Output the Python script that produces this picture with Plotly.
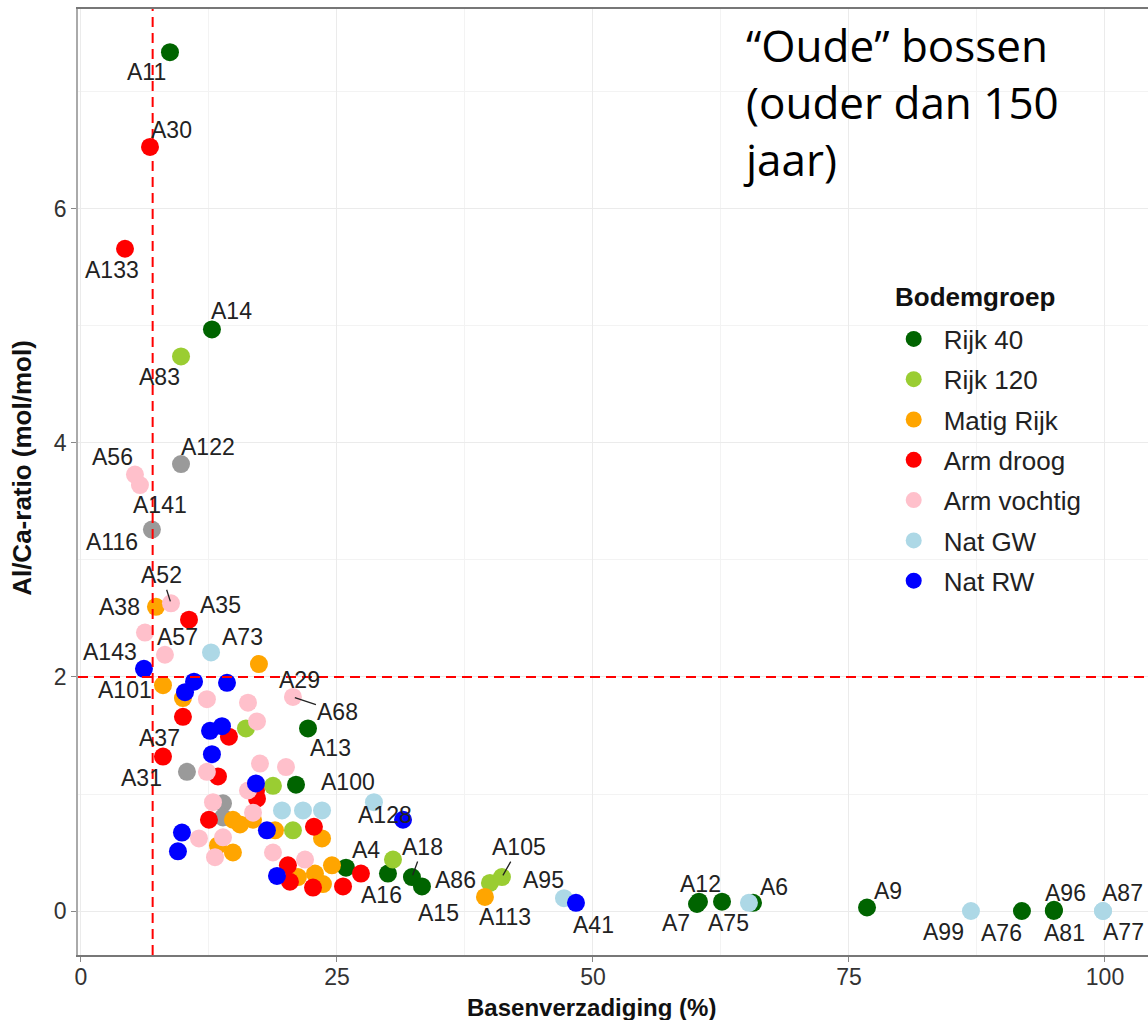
import plotly.graph_objects as go

# ---------------- data ----------------
groups = ["Rijk 40", "Rijk 120", "Matig Rijk", "Arm droog", "Arm vochtig", "Nat GW", "Nat RW"]
colors = ["#006400", "#9ACD32", "#FFA500", "#FF0000", "#FFC0CB", "#ADD8E6", "#0000FF"]
na_color = "#9a9a9a"

# site ids ("" = not labelled), base saturation (%), Al/Ca ratio (mol/mol)
rijk40_site = ["A11", "A14", "A13", "A100", "A4", "", "A18", "A15", "A7", "A12", "A75", "A6", "A9", "A76", "A96", "A81"]
rijk40_bv   = [8.69, 12.79, 22.17, 21.00, 25.88, 29.98, 32.32, 33.30, 60.16, 60.35, 62.60, 65.63, 76.76, 91.89, 95.02, 95.00]
rijk40_alca = [7.34, 4.97, 1.56, 1.08, 0.37, 0.32, 0.29, 0.21, 0.06, 0.08, 0.08, 0.07, 0.03, 0.00, 0.01, 0.00]

rijk120_site = ["A83", "", "", "", "", "A86", "A105"]
rijk120_bv   = [9.77, 16.11, 18.75, 20.70, 30.47, 39.94, 41.11]
rijk120_alca = [4.74, 1.56, 1.07, 0.69, 0.44, 0.24, 0.29]

matig_site = ["A38", "A29", "A101", "", "", "", "", "", "", "", "", "", "", "", "", "A113"]
matig_bv   = [7.32, 17.38, 8.01, 9.96, 14.84, 15.53, 16.80, 13.38, 14.84, 18.95, 23.54, 24.51, 22.85, 23.63, 21.19, 39.45]
matig_alca = [2.60, 2.11, 1.93, 1.82, 0.78, 0.74, 0.78, 0.56, 0.50, 0.69, 0.62, 0.39, 0.32, 0.23, 0.29, 0.12]

droog_site = ["A30", "A133", "A35", "", "", "A37", "", "", "", "", "", "", "", "", "", "A16"]
droog_bv   = [6.74, 4.30, 10.55, 9.96, 14.45, 8.01, 13.38, 17.09, 17.19, 12.50, 22.75, 20.21, 20.41, 22.66, 25.59, 27.34]
droog_alca = [6.53, 5.66, 2.49, 1.66, 1.49, 1.32, 1.15, 1.03, 0.96, 0.78, 0.72, 0.39, 0.25, 0.20, 0.21, 0.32]

vochtig_site = ["A56", "A141", "A52", "", "A57", "", "", "", "A68", "", "", "", "", "", "", "", "", "", "", ""]
vochtig_bv   = [5.27, 5.76, 8.79, 6.25, 8.20, 12.30, 16.31, 17.19, 20.70, 12.30, 17.48, 20.02, 16.31, 12.89, 16.80, 11.52, 13.87, 13.09, 18.75, 21.88]
vochtig_alca = [3.73, 3.64, 2.63, 2.38, 2.19, 1.81, 1.78, 1.62, 1.83, 1.19, 1.26, 1.23, 1.03, 0.93, 0.84, 0.62, 0.63, 0.46, 0.50, 0.44]

natgw_site = ["A73", "", "", "", "A128", "A95", "", "A99", "A87", "A77"]
natgw_bv   = [12.70, 19.63, 21.68, 23.54, 28.61, 47.17, 65.23, 86.91, 99.80, 99.81]
natgw_alca = [2.21, 0.86, 0.86, 0.86, 0.93, 0.11, 0.07, 0.00, 0.00, 0.00]

natrw_site = ["A143", "", "", "", "", "", "", "", "", "", "", "", "", "A41"]
natrw_bv   = [6.15, 11.04, 10.16, 14.26, 12.60, 13.77, 12.79, 17.09, 18.16, 9.86, 9.47, 19.14, 31.45, 48.34]
natrw_alca = [2.07, 1.96, 1.87, 1.95, 1.54, 1.58, 1.34, 1.09, 0.69, 0.67, 0.51, 0.30, 0.78, 0.07]

na_site = ["A122", "A116", "A31", "", ""]
na_bv   = [9.77, 6.93, 10.35, 13.87, 13.87]
na_alca = [3.82, 3.26, 1.19, 0.92, 0.80]

x_ticks = [0, 25, 50, 75, 100]
y_ticks = [0, 2, 4, 6]
bv_threshold = 7
alca_threshold = 2

# ---------------- label placement (pixel offsets from point: dx right, dy down, leader line) ----------------
label_offsets = {
    "A11": (-23, 20, False), "A30": (22, -17, False), "A133": (-13, 21, False),
    "A14": (20, -18, False), "A83": (-22, 21, False), "A122": (27, -17, False),
    "A56": (-22, -18, False), "A141": (20, 20, False), "A116": (-40, 12, False),
    "A52": (-9, -28, True), "A38": (-36, 0, False), "A35": (31, -15, False),
    "A57": (13, -18, False), "A73": (31, -15, False), "A143": (-34, -17, False),
    "A101": (-38, 5, False), "A29": (41, 16, False), "A68": (45, 15, True),
    "A13": (22, 20, False), "A37": (-3, -19, False), "A31": (-45, 6, False),
    "A100": (52, -3, False), "A128": (11, 13, False), "A4": (20, -18, False),
    "A16": (21, 21, False), "A18": (11, -30, True), "A15": (17, 27, False),
    "A86": (-34, -3, False), "A105": (17, -30, True), "A113": (20, 20, False),
    "A95": (-21, -18, False), "A41": (18, 22, False), "A12": (2, -18, False),
    "A7": (-21, 19, False), "A75": (6, 21, False), "A6": (21, -16, False),
    "A9": (21, -17, False), "A99": (-27, 21, False), "A76": (-20, 22, False),
    "A96": (12, -17, False), "A81": (11, 22, False), "A87": (20, -18, False),
    "A77": (20, 21, False),
}

series = [
    (None, na_color, na_site, na_bv, na_alca),
    (groups[0], colors[0], rijk40_site, rijk40_bv, rijk40_alca),
    (groups[1], colors[1], rijk120_site, rijk120_bv, rijk120_alca),
    (groups[2], colors[2], matig_site, matig_bv, matig_alca),
    (groups[3], colors[3], droog_site, droog_bv, droog_alca),
    (groups[4], colors[4], vochtig_site, vochtig_bv, vochtig_alca),
    (groups[5], colors[5], natgw_site, natgw_bv, natgw_alca),
    (groups[6], colors[6], natrw_site, natrw_bv, natrw_alca),
]

FONT = "Arial, Liberation Sans, sans-serif"

fig = go.Figure()
annotations = []
for name, col, sites, xs, ys in series:
    fig.add_trace(go.Scatter(
        x=xs, y=ys, mode="markers",
        name=name if name else "NA",
        showlegend=name is not None,
        legendgroup=name if name else "NA",
        marker=dict(color=col, size=18, line=dict(width=0)),
        text=sites, hoverinfo="text+x+y",
    ))
    for s, xv, yv in zip(sites, xs, ys):
        if not s:
            continue
        dx, dy, leader = label_offsets[s]
        if leader:
            annotations.append(dict(
                x=xv, y=yv, xref="x", yref="y", text=s, showarrow=True,
                ax=dx, ay=dy, arrowhead=0, arrowwidth=1.3, arrowcolor="#222",
                standoff=2, font=dict(family=FONT, size=23, color="#222"),
            ))
        else:
            annotations.append(dict(
                x=xv, y=yv, xref="x", yref="y", text=s, showarrow=False,
                xshift=dx, yshift=-dy, font=dict(family=FONT, size=23, color="#222"),
            ))

# axis titles and panel text
annotations.append(dict(
    x=0.48, y=-0.055, xref="paper", yref="paper", text="<b>Basenverzadiging (%)</b>",
    showarrow=False, xanchor="center", yanchor="middle",
    font=dict(family=FONT, size=24, color="#111"),
))
annotations.append(dict(
    x=-0.0523, y=0.515, xref="paper", yref="paper", text="<b>Al/Ca-ratio (mol/mol)</b>",
    showarrow=False, xanchor="center", yanchor="middle", textangle=-90,
    font=dict(family=FONT, size=26, color="#111"),
))
annotations.append(dict(
    x=0.620, y=0.996, xref="paper", yref="paper",
    text="“Oude” bossen<br>(ouder dan 150<br>jaar)",
    showarrow=False, xanchor="left", yanchor="top", align="left",
    font=dict(family="Open Sans, Noto Sans, sans-serif", size=44, color="#000"),
))
# legend title
annotations.append(dict(
    x=0.7617, y=0.6956, xref="paper", yref="paper", text="<b>Bodemgroep</b>",
    showarrow=False, xanchor="left", yanchor="middle",
    font=dict(family=FONT, size=26, color="#111"),
))

shapes = [
    # white legend panel (covers gridlines, sits under the markers)
    dict(type="rect", xref="paper", yref="paper", x0=0.738, x1=0.980, y0=0.373, y1=0.724,
         fillcolor="white", line=dict(width=0), layer="between"),
    dict(type="line", xref="x", yref="paper", x0=bv_threshold, x1=bv_threshold, y0=0, y1=1,
         line=dict(color="#FF0000", width=2, dash="10px,6px"), layer="above"),
    dict(type="line", xref="paper", yref="y", x0=0, x1=1, y0=alca_threshold, y1=alca_threshold,
         line=dict(color="#FF0000", width=2, dash="10px,6px"), layer="above"),
]

fig.update_layout(
    width=1148, height=1020,
    margin=dict(l=78, r=0, t=9, b=65),
    paper_bgcolor="white", plot_bgcolor="white",
    font=dict(family=FONT, size=23, color="#222"),
    annotations=annotations, shapes=shapes,
    legend=dict(
        x=0.753, y=0.676, xanchor="left", yanchor="top",
        bgcolor="rgba(0,0,0,0)", borderwidth=0,
        font=dict(family=FONT, size=26, color="#222"),
        tracegroupgap=3.5, itemsizing="trace", itemwidth=50,
    ),
    xaxis=dict(
        range=[-0.29, 104.2], tickvals=x_ticks, ticktext=[str(v) for v in x_ticks],
        showgrid=True, gridcolor="#ebebeb", gridwidth=1.3, zeroline=False,
        minor=dict(dtick=12.5, tick0=0, showgrid=True, gridcolor="#f3f3f3", gridwidth=1),
        showline=True, linecolor="#777", linewidth=1.5, mirror=True,
        ticks="outside", ticklen=5, tickcolor="#888", tickwidth=1.2,
        ticklabelstandoff=-4,
        tickfont=dict(family=FONT, size=23, color="#333"),
    ),
    yaxis=dict(
        range=[-0.376, 7.709], tickvals=y_ticks, ticktext=[str(v) for v in y_ticks],
        showgrid=True, gridcolor="#ebebeb", gridwidth=1.3, zeroline=False,
        minor=dict(dtick=1, tick0=0, showgrid=True, gridcolor="#f3f3f3", gridwidth=1),
        showline=True, linecolor="#aaa", linewidth=1.5, mirror=False,
        ticks="outside", ticklen=5, tickcolor="#888", tickwidth=1.2,
        tickfont=dict(family=FONT, size=23, color="#333"),
    ),
)

fig.write_html("out.html")
